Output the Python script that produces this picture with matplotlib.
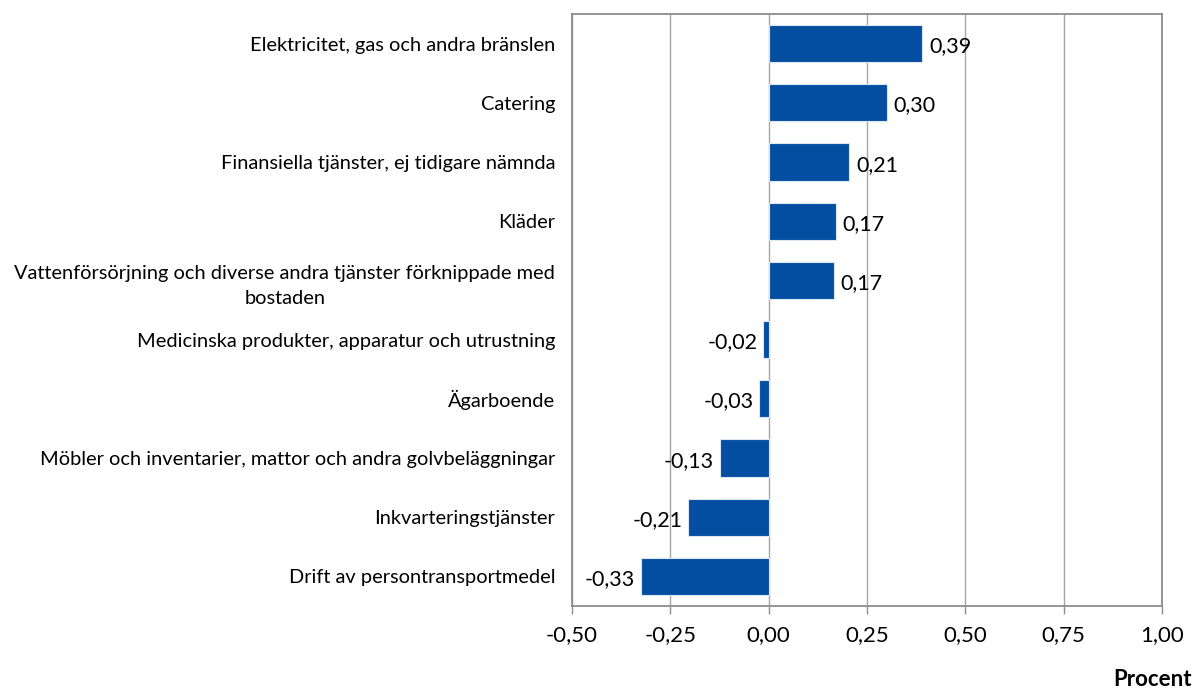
import matplotlib
matplotlib.use("Agg")
import matplotlib.pyplot as plt
from matplotlib.ticker import FixedLocator

plt.rcParams['font.family'] = ['Lato', 'DejaVu Sans']

categories = [
    "Elektricitet, gas och andra bränslen",
    "Catering",
    "Finansiella tjänster, ej tidigare nämnda",
    "Kläder",
    "Vattenförsörjning och diverse andra tjänster förknippade med\nbostaden",
    "Medicinska produkter, apparatur och utrustning",
    "Ägarboende",
    "Möbler och inventarier, mattor och andra golvbeläggningar",
    "Inkvarteringstjänster",
    "Drift av persontransportmedel",
]
values = [0.39, 0.30, 0.21, 0.17, 0.17, -0.02, -0.03, -0.13, -0.21, -0.33]
bar_lengths = [0.39, 0.30, 0.205, 0.17, 0.165, -0.015, -0.025, -0.125, -0.205, -0.325]
x_ticks = [-0.50, -0.25, 0.00, 0.25, 0.50, 0.75, 1.00]
x_label = "Procent"

fig = plt.figure(figsize=(11.94, 6.90), dpi=100)
ax = fig.add_axes([572/1194, 1-606/690, 590/1194, 592/690])

n = len(categories)
ypos = list(range(n))
ax.barh(ypos, bar_lengths, height=0.63, color="#044EA2",
        edgecolor="#DCE6F2", linewidth=0.8, zorder=3)
ax.set_ylim(n - 0.5, -0.5)
ax.set_xlim(-0.5, 1.0)
ax.xaxis.set_major_locator(FixedLocator(x_ticks))
ax.set_xticklabels([f"{t:.2f}".replace(".", ",") for t in x_ticks], fontsize=16)
ax.set_yticks(ypos)
ax.set_yticklabels(categories, fontsize=14.4, multialignment="center",
                   linespacing=1.55)
ax.tick_params(axis="y", length=0, pad=12)
ax.tick_params(axis="x", length=6, width=1, color="#8C8C8C", direction="out", pad=8)
ax.grid(axis="x", color="#A6A6A6", linewidth=1, zorder=0)
for s in ax.spines.values():
    s.set_color("#8C8C8C")
    s.set_linewidth(1.3)

for y, v, b in zip(ypos, values, bar_lengths):
    txt = f"{v:.2f}".replace(".", ",")
    if v >= 0:
        ax.annotate(txt, (b, y), xytext=(5, -2), textcoords="offset points",
                    ha="left", va="center", fontsize=15.5, zorder=4)
    else:
        ax.annotate(txt, (b, y), xytext=(-4, -2), textcoords="offset points",
                    ha="right", va="center", fontsize=15.5, zorder=4)

fig.text(1192/1194, 1-680/690, x_label, ha="right", va="center",
         fontsize=16, fontweight="bold")

fig.savefig("out.png", dpi=100)
